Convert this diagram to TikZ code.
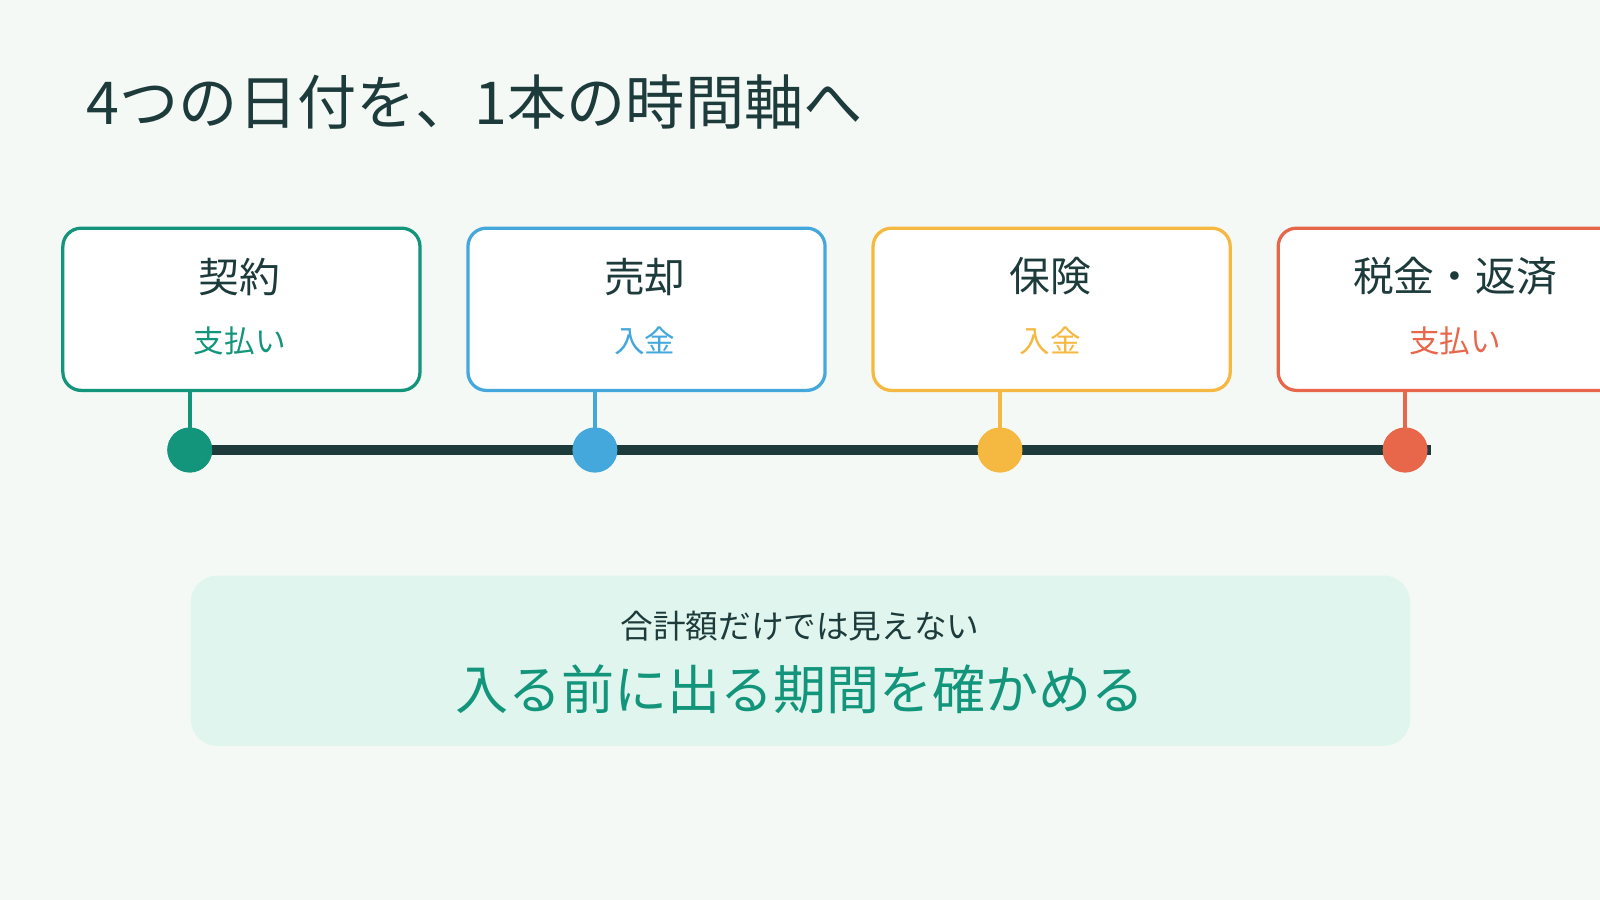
\documentclass[tikz,border=0pt]{standalone}
\usetikzlibrary{calc}
\usepackage{fontspec}
\setmainfont{Noto Sans CJK JP}
\definecolor{bg}{HTML}{F4F9F6}
\definecolor{ink}{HTML}{1D3B3B}
\definecolor{cg}{HTML}{12957A}
\definecolor{cb}{HTML}{45A8DC}
\definecolor{cy}{HTML}{F5B942}
\definecolor{cr}{HTML}{E8674A}
\definecolor{panel}{HTML}{E0F5EE}
\begin{document}
\begin{tikzpicture}[x=0.5pt,y=-0.5pt,
  card/.style={draw=#1,line width=1.6pt,fill=white,rounded corners=9pt,minimum width=175pt,minimum height=79.5pt,anchor=north west},
  stem/.style={draw=#1,line width=2.2pt},
  dot/.style={circle,fill=#1,minimum size=22pt,inner sep=0pt},
  head/.style={font=\fontsize{20}{24}\selectfont,text=ink},
  sub/.style={font=\fontsize{15}{18}\selectfont,text=#1}]
\useasboundingbox (0,0) rectangle (1568,882);
\fill[bg] (0,0) rectangle (1568,882);
\node[anchor=west,text=ink,font=\fontsize{29}{34}\selectfont] (title) at (78,100) {4つの日付を、1本の時間軸へ};
\begin{scope}
\clip (0,0) rectangle (1568,882);
\foreach \n/\x/\c/\h/\s in {a/60/cg/契約/支払い,b/457/cb/売却/入金,c/854/cy/保険/入金,d/1251/cr/税金・返済/支払い}{
  \node[card=\c] (box\n) at (\x,222) {};
  \node[head] (h\n) at ($(\x,222)+(175,49)$) {\h};
  \node[sub=\c] (s\n) at ($(\x,222)+(175,112)$) {\s};
  \coordinate (top\n) at ($(\x,381)+(126,0)$);
  \node[dot=\c] (dot\n) at ($(\x,441)+(126,0)$) {};
}
\end{scope}
\coordinate (lineend) at (1402,441);
\draw[ink,line width=4.5pt] (dota.center) -- (lineend);
\foreach \n/\c in {a/cg,b/cb,c/cy,d/cr}{
  \draw[stem=\c] (top\n) -- (dot\n.center);
  \node[dot=\c] at (dot\n) {};
}
\fill[panel,rounded corners=13pt] (187,564) rectangle (1382,731);
\node[text=ink,font=\fontsize{16}{19}\selectfont] (p1) at (784,614) {合計額だけでは見えない};
\node[text=cg,font=\fontsize{26}{30}\selectfont] (p2) at (784,676) {入る前に出る期間を確かめる};
\end{tikzpicture}
\end{document}
